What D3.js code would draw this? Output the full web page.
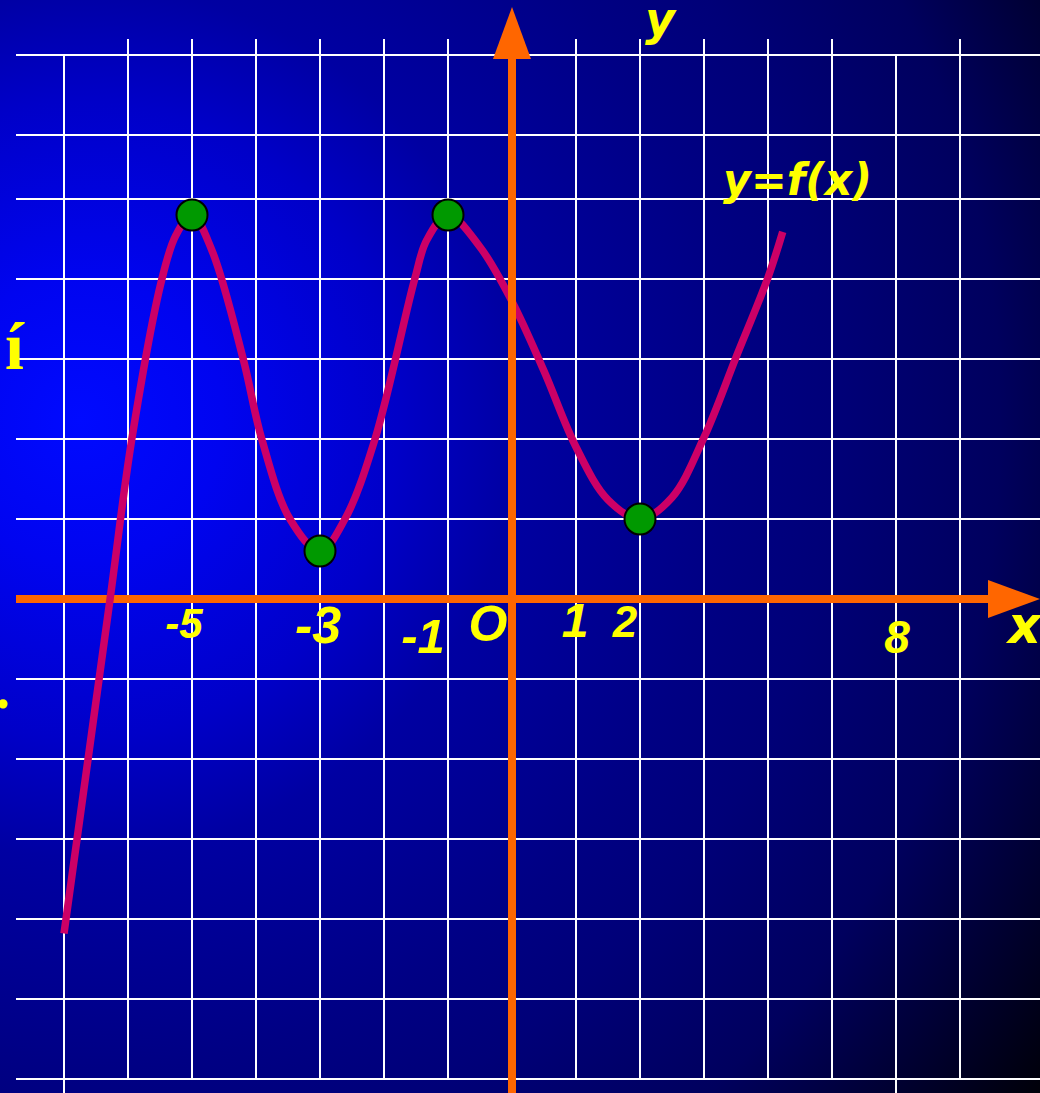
<!DOCTYPE html>
<html>
<head>
<meta charset="utf-8">
<script src="https://cdn.jsdelivr.net/npm/d3@7"></script>
<style>
  html, body { margin: 0; padding: 0; background: #000; overflow: hidden; }
  svg { display: block; }
</style>
</head>
<body>
<svg id="chart" width="1040" height="1093"></svg>
<script>
// Graph of y = f(x): points along the curve (x, y in axis units)
const curveX = [-7, -6.28, -5.94, -5.47, -5.25, -5,
                -4.69, -4.2, -3.91, -3.47, -3,
                -2.61, -2.14, -1.52, -1.33, -1,
                -0.5, 0, 0.5, 1, 1.5, 2,
                2.5, 3, 3.5, 4, 4.23];
const curveY = [-4.18, 0, 2, 4, 4.55, 4.8,
                4.36, 3, 2, 1, 0.6,
                1, 2, 4, 4.49, 4.8,
                4.4, 3.72, 2.85, 1.9, 1.24, 1,
                1.27, 2.02, 3.02, 4.02, 4.59];

// Local extrema marked with dots
const extremaX = [-5, -3, -1, 2];
const extremaY = [4.8, 0.6, 4.8, 1];

// Labels under the x axis
const tickValues = [-5, -3, -1, 0, 1, 2, 6];
const tickLabels = ["-5", "-3", "-1", "O", "1", "2", "8"];

// Grid lines
const gridX = [-7, -6, -5, -4, -3, -2, -1, 1, 2, 3, 4, 5, 6, 7];
const gridY = [6.8, 5.8, 5, 4, 3, 2, 1, -1, -2, -3, -4, -5, -6];

const W = 1040, H = 1093;
const svg = d3.select("#chart");

// 64 px per unit horizontally, 80 px per unit vertically
const x = d3.scaleLinear().domain([-7.75, 8.25]).range([16, 1040]);
const y = d3.scaleLinear().domain([-6, 6.8]).range([1079, 55]);

// Background: bright blue glow on the left fading to black at the corners
const defs = svg.append("defs");
const grad = defs.append("radialGradient")
  .attr("id", "bg").attr("gradientUnits", "userSpaceOnUse")
  .attr("cx", 80).attr("cy", 420).attr("r", 1180)
  .attr("fx", 80).attr("fy", 420);
[[0, "rgb(0,10,255)"], [0.12, "rgb(0,4,240)"], [0.27, "rgb(0,0,200)"],
 [0.37, "rgb(0,0,162)"], [0.55, "rgb(0,0,132)"], [0.64, "rgb(0,0,120)"],
 [0.78, "rgb(0,0,94)"], [0.89, "rgb(0,0,50)"], [1, "rgb(0,0,6)"]]
  .forEach(([o, c]) => grad.append("stop").attr("offset", o).attr("stop-color", c));
svg.append("rect").attr("width", W).attr("height", H).attr("fill", "url(#bg)");

// White grid
const grid = svg.append("g").attr("stroke", "#fff").attr("stroke-width", 2);
grid.selectAll("line.h").data(gridY).join("line").attr("class", "h")
  .attr("x1", x(-7.75)).attr("x2", x(8.25))
  .attr("y1", d => y(d)).attr("y2", d => y(d));
const longLines = new Set([-7, 6]);
grid.selectAll("line.v").data(gridX).join("line").attr("class", "v")
  .attr("x1", d => x(d)).attr("x2", d => x(d))
  .attr("y1", d => longLines.has(d) ? y(6.8) : y(7))
  .attr("y2", d => longLines.has(d) ? H : y(-6));

const orange = "#ff6600";

// x axis with arrow
const xTip = x(8.25);
svg.append("line").attr("x1", x(-7.75)).attr("x2", xTip - 50)
  .attr("y1", y(0)).attr("y2", y(0))
  .attr("stroke", orange).attr("stroke-width", 8);
svg.append("path")
  .attr("d", `M${xTip},${y(0)} L${xTip - 52},${y(0) - 19} L${xTip - 52},${y(0) + 19} Z`)
  .attr("fill", orange);

// curve
const line = d3.line()
  .x(i => x(curveX[i])).y(i => y(curveY[i]))
  .curve(d3.curveCatmullRom.alpha(0.5));
svg.append("path")
  .attr("d", line(d3.range(curveX.length)))
  .attr("fill", "none").attr("stroke", "#cc0066")
  .attr("stroke-width", 7.5).attr("stroke-linecap", "butt")
  .attr("stroke-linejoin", "round");

// y axis with arrow
const yTip = 7;
svg.append("line").attr("x1", x(0)).attr("x2", x(0))
  .attr("y1", yTip + 50).attr("y2", H)
  .attr("stroke", orange).attr("stroke-width", 8);
svg.append("path")
  .attr("d", `M${x(0)},${yTip} L${x(0) - 19},${yTip + 52} L${x(0) + 19},${yTip + 52} Z`)
  .attr("fill", orange);

// extrema dots
svg.append("g").selectAll("circle").data(extremaX).join("circle")
  .attr("cx", d => x(d)).attr("cy", (d, i) => y(extremaY[i]))
  .attr("r", 15.5).attr("fill", "#009900")
  .attr("stroke", "#000").attr("stroke-width", 2);

// tick labels (hand-placed sizes/offsets per label)
const labelStyle = [
  { size: 42, dx: -8,  dy: 39 },
  { size: 52, dx: -2,  dy: 44 },
  { size: 49, dx: -25, dy: 54 },
  { size: 50, dx: -24, dy: 42 },
  { size: 48, dx: -1,  dy: 38 },
  { size: 44, dx: -15, dy: 38 },
  { size: 46, dx: 1,   dy: 54 }
];
svg.append("g").selectAll("text").data(tickValues).join("text")
  .attr("x", (d, i) => x(d) + labelStyle[i].dx)
  .attr("y", (d, i) => y(0) + labelStyle[i].dy)
  .attr("text-anchor", "middle")
  .attr("font-family", "'Liberation Sans', Arial, sans-serif")
  .attr("font-weight", "bold").attr("font-style", "italic")
  .attr("font-size", (d, i) => labelStyle[i].size)
  .attr("fill", "#ffff00")
  .text((d, i) => tickLabels[i]);

const yellow = "#ffff00";
const italicFont = "'DejaVu Sans', Verdana, sans-serif";

// axis names
svg.append("text").attr("x", 660).attr("y", 35)
  .attr("text-anchor", "middle")
  .attr("font-family", italicFont).attr("font-weight", "bold").attr("font-style", "italic")
  .attr("font-size", 46).attr("fill", yellow).text("y");
svg.append("text").attr("x", 1008).attr("y", 643)
  .attr("font-family", italicFont).attr("font-weight", "bold").attr("font-style", "italic")
  .attr("font-size", 51).attr("fill", yellow).text("x");

// function name
svg.append("text").attr("x", 723).attr("y", 195)
  .attr("font-family", italicFont).attr("font-weight", "bold").attr("font-style", "italic")
  .attr("font-size", 44).attr("fill", yellow)
  .attr("textLength", 149).attr("lengthAdjust", "spacingAndGlyphs")
  .text("y=f(x)");

// text fragments at the left edge
svg.append("text").attr("x", 24).attr("y", 369)
  .attr("text-anchor", "end")
  .attr("font-family", "'Liberation Serif', 'Times New Roman', serif")
  .attr("font-weight", "bold").attr("font-size", 68)
  .attr("fill", yellow).text("í");
svg.append("text").attr("x", -4).attr("y", 708)
  .attr("font-family", "'Liberation Serif', 'Times New Roman', serif")
  .attr("font-weight", "bold").attr("font-size", 56)
  .attr("fill", yellow).text(".");
</script>
</body>
</html>
